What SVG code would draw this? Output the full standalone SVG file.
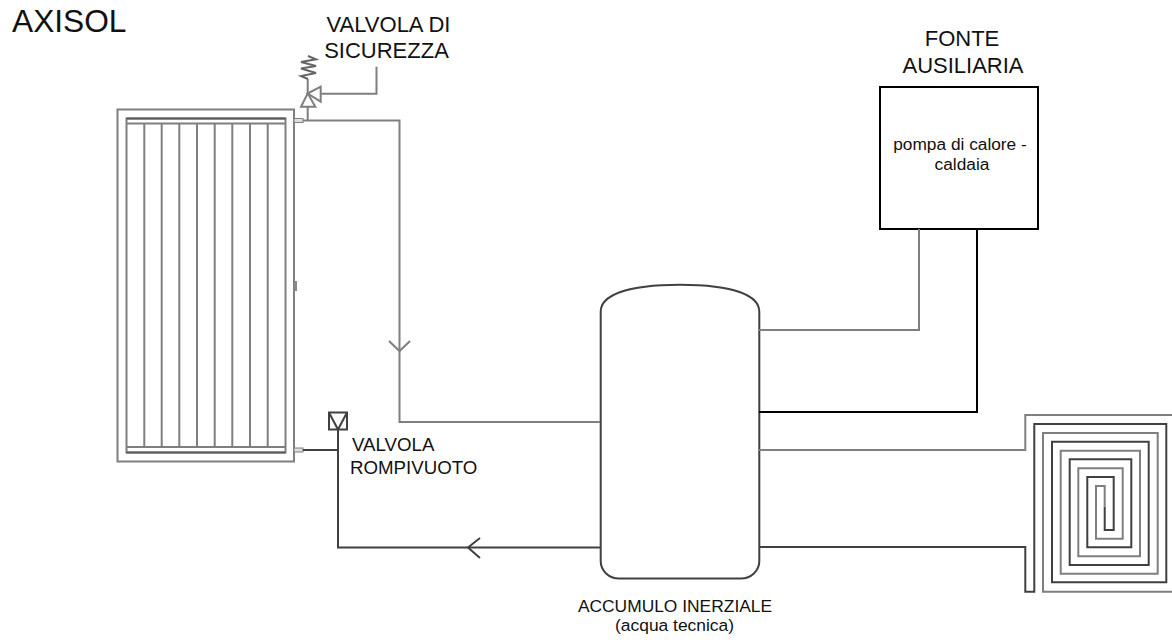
<svg xmlns="http://www.w3.org/2000/svg" width="1172" height="640" viewBox="0 0 1172 640">
<style>
text{font-family:"Liberation Sans",Arial,sans-serif;fill:#111}
.g{fill:none;stroke:#7f7f7f;stroke-width:2}
.d{fill:none;stroke:#404040;stroke-width:2}
.k{fill:none;stroke:#000;stroke-width:2}
.m{text-anchor:middle}
</style>
<rect width="1172" height="640" fill="#fff"/>
<text id="title" x="12" y="32" font-size="31.700">AXISOL</text>
<g id="panel">
<rect class="g" x="117.500" y="109.500" width="176.500" height="352"/>
<rect class="g" x="126.500" y="118.500" width="159" height="334"/>
<path class="g" d="M126.500 123.500H285.500M126.500 447H285.500M144.300 123.500V447M161.700 123.500V447M179.300 123.500V447M197 123.500V447M214.700 123.500V447M232.300 123.500V447M250 123.500V447M267.700 123.500V447"/>
<path class="g" style="stroke:#5a5a5a" d="M126.500 118.500H285.500M126.500 452.500H285.500"/>
<rect x="294" y="118.500" width="9" height="4" fill="#ddd" stroke="#7f7f7f"/>
<rect x="294" y="448" width="9" height="4" fill="#ddd" stroke="#7f7f7f"/>
<rect x="294" y="281" width="3" height="10" fill="#888"/>
</g>
<g id="safety-valve">
<path class="g" d="M307.700 120V107M307.700 93.500V79"/>
<path class="g" style="stroke:#666" d="M308 56L316 59.300L301 62L316 66L301 68.500L316 73L301 76L308 79"/>
<path class="g" d="M301 106.700H315.300L307.700 93.300Z"/>
<path class="g" d="M307.700 93.500L320.700 86.700V101.700Z"/>
<path class="g" d="M320.700 93.700H376.500V66.700"/>
</g>
<g id="vacuum-valve">
<rect class="d" x="329" y="412.500" width="18" height="17"/>
<path class="d" d="M329 412.500L338 429.500L347 412.500"/>
</g>
<g id="auxiliary-source">
<rect class="k" x="880" y="87" width="158" height="142"/>
<text class="m" x="960" y="150" font-size="17.300">pompa di calore -</text>
<text class="m" x="962" y="169.500" font-size="17.300">caldaia</text>
</g>
<g id="tank">
<path class="d" d="M600.700 311.700C600.700 296 625 284.700 680 284.700C735 284.700 759.300 296 759.300 311.700V561C759.300 571 751 578.500 741 578.500H619C609 578.500 600.700 571 600.700 561Z"/>
</g>
<g id="radiant-coil">
<path class="g" d="M759 450H1025.300V415H1172"/>
<path class="d" d="M759 547H1025.300V591.700H1034.300V424H1166.300V582.300H1052V441.700H1148.700V565H1069.700V459.300H1131.300V547.300H1087.300V477H1113.700V530H1104.700V506.700"/>
<path class="g" d="M1104.700 506.700V486H1096V538.700H1122.700V468.300H1078.300V556.300H1140V450.700H1060.700V573.700H1157.700V433H1043V591.700H1172"/>
</g>
<g id="connectors">
<path class="g" d="M303 120.500H399.500V422H600"/>
<path class="g" d="M389 341L399.500 351L410 341"/>
<path class="d" d="M303 450H338M338 430V547.500H600"/>
<path class="d" d="M480 538L468 547.500L480 558"/>
<path class="g" d="M759 330H919V229"/>
<path class="k" d="M759 412H977V229"/>
</g>
<g id="labels">
<text class="m" x="388.500" y="32" font-size="22">VALVOLA DI</text>
<text class="m" x="386.500" y="58" font-size="22">SICUREZZA</text>
<text class="m" x="962" y="46" font-size="22">FONTE</text>
<text class="m" x="963" y="73" font-size="22">AUSILIARIA</text>
<text x="352" y="451" font-size="18.700">VALVOLA</text>
<text x="350" y="473.500" font-size="18.700">ROMPIVUOTO</text>
<text class="m" x="675" y="611.500" font-size="17.400">ACCUMULO INERZIALE</text>
<text class="m" x="674.500" y="631" font-size="17.400">(acqua tecnica)</text>
</g>
</svg>
